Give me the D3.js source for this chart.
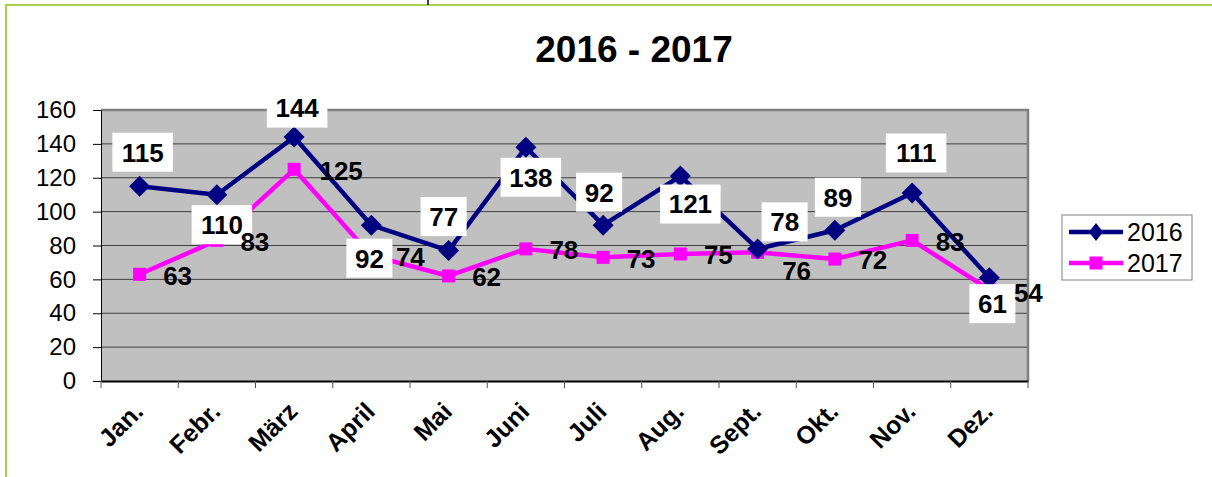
<!DOCTYPE html>
<html>
<head>
<meta charset="utf-8">
<script src="https://cdnjs.cloudflare.com/ajax/libs/d3/7.8.5/d3.min.js"></script>
<style>
  body { margin: 0; background: #fff; }
  text { font-family: Arial, "Liberation Sans", sans-serif; }
</style>
</head>
<body>
<div id="chart"></div>
<script>
// data
const months = ["Jan.", "Febr.", "März", "April", "Mai", "Juni", "Juli", "Aug.", "Sept.", "Okt.", "Nov.", "Dez."];
const values2016 = [115, 110, 144, 92, 77, 138, 92, 121, 78, 89, 111, 61];
const values2017 = [63, 83, 125, 74, 62, 78, 73, 75, 76, 72, 83, 54];
const yTicks = [0, 20, 40, 60, 80, 100, 120, 140, 160];
const seriesNames = ["2016", "2017"];

// label placement (offset of label centre from its point)
const off2016 = [[3,-34],[5,30],[3,-29],[-2,33],[-5,-34],[5,30],[-4,-33],[10,28],[27,-27],[3,-33],[4,-40],[3,26]];
const off2017 = [[38,1],[38,1],[47,1],[39,1],[38,1],[38,1],[38,1],[38,1],[39,18],[38,1],[38,1],[39,3]];

const W = 1212, H = 477;
const pLeft = 101, pRight = 1028, pTop = 110, pBottom = 381;
const navy = "#000080", pink = "#FF00FF";

const svg = d3.select("#chart").append("svg")
  .attr("width", W).attr("height", H);

svg.append("rect").attr("width", W).attr("height", H).attr("fill", "#fff");

// outer green frame
svg.append("rect")
  .attr("x", 6).attr("y", 5).attr("width", W + 10).attr("height", H + 10)
  .attr("fill", "none").attr("stroke", "#A8D04C").attr("stroke-width", 2);
svg.append("line")
  .attr("x1", 428).attr("x2", 428).attr("y1", 0).attr("y2", 5)
  .attr("stroke", "#000").attr("stroke-width", 1.5);

const x = d3.scaleBand().domain(months).range([pLeft, pRight]).padding(0);
const y = d3.scaleLinear().domain([0, 160]).range([pBottom, pTop]);
const cx = m => x(m) + x.bandwidth() / 2;

// plot area
svg.append("rect")
  .attr("x", pLeft).attr("y", pTop)
  .attr("width", pRight - pLeft).attr("height", pBottom - pTop)
  .attr("fill", "#C0C0C0");

// gridlines
svg.append("g").selectAll("line")
  .data(yTicks.filter(d => d > 0 && d < 160))
  .join("line")
  .attr("x1", pLeft).attr("x2", pRight)
  .attr("y1", d => y(d)).attr("y2", d => y(d))
  .attr("stroke", "#404040").attr("stroke-width", 1);

// plot border (top / right)
svg.append("path")
  .attr("d", `M${pLeft},${y(160)}H${pRight}V${pBottom}`)
  .attr("fill", "none").attr("stroke", "#808080").attr("stroke-width", 2.5);

// y axis
const yAxis = svg.append("g")
  .attr("transform", `translate(${pLeft},0)`)
  .call(d3.axisLeft(y).tickValues(yTicks).tickSize(8).tickPadding(17).tickSizeOuter(0));
yAxis.select(".domain").attr("stroke", "#000");
yAxis.selectAll(".tick line").attr("stroke", "#000");
yAxis.selectAll("text")
  .attr("font-size", 24).attr("fill", "#000")
  .style("font-family", "Arial, 'Liberation Sans', sans-serif");

// x axis
const xAxis = svg.append("g")
  .attr("transform", `translate(0,${pBottom})`)
  .call(d3.axisBottom(x).tickSize(0).tickSizeOuter(0).tickFormat(""));
xAxis.select(".domain").attr("stroke", "#000").attr("stroke-width", 2);
svg.append("g").selectAll("line")
  .data(months.concat(["end"]))
  .join("line")
  .attr("x1", (d, i) => i < months.length ? x(d) : pRight)
  .attr("x2", (d, i) => i < months.length ? x(d) : pRight)
  .attr("y1", pBottom).attr("y2", pBottom + 7)
  .attr("stroke", "#555").attr("stroke-width", 1);

svg.append("g").selectAll("text")
  .data(months)
  .join("text")
  .attr("transform", d => `translate(${cx(d) + 5},${pBottom + 32}) rotate(-45)`)
  .attr("text-anchor", "end")
  .attr("font-size", 25).attr("font-weight", "bold")
  .text(d => d);

// lines
const line = d3.line().x((d, i) => cx(months[i])).y(d => y(d));
svg.append("path").datum(values2017)
  .attr("d", line).attr("fill", "none")
  .attr("stroke", pink).attr("stroke-width", 4.5).attr("stroke-linejoin", "round");
svg.append("path").datum(values2016)
  .attr("d", line).attr("fill", "none")
  .attr("stroke", navy).attr("stroke-width", 4.5).attr("stroke-linejoin", "round");

// markers
const diamond = d3.symbol().type(d3.symbolDiamond2).size(280);
svg.append("g").selectAll("rect")
  .data(values2017)
  .join("rect")
  .attr("x", (d, i) => cx(months[i]) - 6.5).attr("y", d => y(d) - 6.5)
  .attr("width", 13).attr("height", 13).attr("fill", pink);
svg.append("g").selectAll("path")
  .data(values2016)
  .join("path")
  .attr("d", diamond)
  .attr("transform", (d, i) => `translate(${cx(months[i])},${y(d)})`)
  .attr("fill", navy);

// labels 2016 (white boxes)
const lab16 = svg.append("g").selectAll("g")
  .data(values2016)
  .join("g")
  .attr("transform", (d, i) => `translate(${cx(months[i]) + off2016[i][0]},${y(d) + off2016[i][1]})`);
lab16.append("rect")
  .attr("x", d => -(String(d).length * 14.5 + 17) / 2)
  .attr("y", -19.5)
  .attr("width", d => String(d).length * 14.5 + 17)
  .attr("height", 39)
  .attr("fill", "#fff");
lab16.append("text")
  .attr("text-anchor", "middle").attr("dy", "0.36em")
  .attr("font-size", 26).attr("font-weight", "bold")
  .text(d => d);

// labels 2017
svg.append("g").selectAll("text")
  .data(values2017)
  .join("text")
  .attr("x", (d, i) => cx(months[i]) + off2017[i][0])
  .attr("y", (d, i) => y(d) + off2017[i][1])
  .attr("text-anchor", "middle").attr("dy", "0.36em")
  .attr("font-size", 26).attr("font-weight", "bold")
  .text(d => d);

// title
svg.append("text")
  .attr("x", 634).attr("y", 62)
  .attr("text-anchor", "middle")
  .attr("font-size", 37).attr("font-weight", "bold")
  .text("2016 - 2017");

// legend
const lg = svg.append("g").attr("transform", "translate(1062,215)");
lg.append("rect")
  .attr("width", 130).attr("height", 65)
  .attr("fill", "#fff").attr("stroke", "#808080").attr("stroke-width", 1);
const colors = [navy, pink];
seriesNames.forEach((name, i) => {
  const ly = 17 + i * 31;
  lg.append("line")
    .attr("x1", 7).attr("x2", 61).attr("y1", ly).attr("y2", ly)
    .attr("stroke", colors[i]).attr("stroke-width", 4.5);
  if (i === 0) {
    lg.append("path").attr("d", diamond)
      .attr("transform", `translate(34,${ly}) scale(0.68,0.85)`).attr("fill", navy);
  } else {
    lg.append("rect").attr("x", 34 - 6.5).attr("y", ly - 6.5).attr("width", 13).attr("height", 13).attr("fill", pink);
  }
  lg.append("text")
    .attr("x", 65).attr("y", ly).attr("dy", "0.36em")
    .attr("font-size", 25)
    .text(name);
});
</script>
</body>
</html>
